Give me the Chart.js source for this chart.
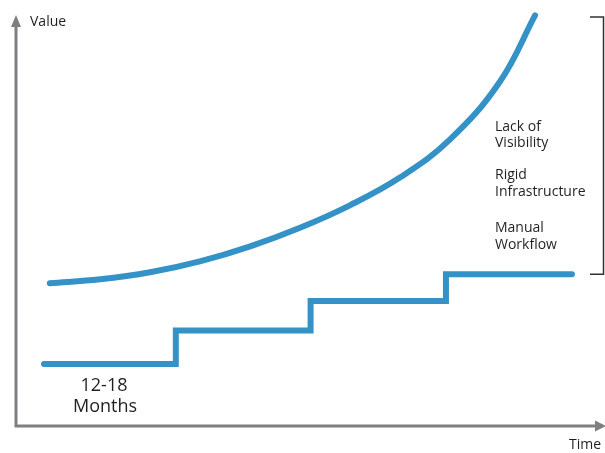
<!DOCTYPE html>
<html>
<head>
<meta charset="utf-8">
<script src="https://cdn.jsdelivr.net/npm/chart.js@4"></script>
<style>
  html, body { margin: 0; padding: 0; background: #fff; }
  #wrap { width: 605px; height: 453px; }
</style>
</head>
<body>
<div id="wrap"><canvas id="chart"></canvas></div>
<script>
// cost curve (rising exponentially)
const curveX = [5.6, 14.2, 22.7, 31.2, 39.8, 48.3, 56.8, 65.4, 73.9, 82.4, 88.4];
const curveY = [34.9, 35.85, 37.55, 40.2, 43.85, 48.35, 53.8, 60.6, 69.8, 83.8, 99.9];

// stepped line
const stepX = [4.6, 27.1, 50.1, 73.2, 94.7];
const stepY = [15.3, 23.4, 30.6, 37.1, 37.1];

const sideLabels = [['Lack of', 'Visibility'], ['Rigid', 'Infrastructure'], ['Manual', 'Workflow']];
const stepLabel = ['12-18', 'Months'];
const xAxisTitle = 'Time';
const yAxisTitle = 'Value';

const BLUE = '#3592c6';
const GREY = '#7d7f82';
const TEXT = '#231f20';
const FONT = '"Open Sans", sans-serif';

const toPoints = (xs, ys) => xs.map((x, i) => ({ x: x, y: ys[i] }));

// axes with arrows, bracket and the text notes
const decor = {
    id: 'decor',
    afterDatasetsDraw(chart) {
        const c = chart.ctx;
        const xs = chart.scales.x, ys = chart.scales.y;
        const left = xs.getPixelForValue(0) - 1, bottom = ys.getPixelForValue(0) - 1;
        c.save();

        // axes
        c.strokeStyle = GREY;
        c.fillStyle = GREY;
        c.lineWidth = 3;
        c.beginPath();
        c.moveTo(left, 24);
        c.lineTo(left, bottom);
        c.lineTo(598, bottom);
        c.stroke();
        c.beginPath();
        c.moveTo(left, 15);
        c.lineTo(left - 5, 27);
        c.lineTo(left + 5, 27);
        c.closePath();
        c.fill();
        c.beginPath();
        c.moveTo(606, bottom);
        c.lineTo(595, bottom - 5.5);
        c.lineTo(595, bottom + 5.5);
        c.closePath();
        c.fill();

        // bracket
        const bx = 603.5;
        const bTop = ys.getPixelForValue(99.5), bBot = ys.getPixelForValue(37.1);
        c.strokeStyle = '#333';
        c.lineWidth = 1.5;
        c.beginPath();
        c.moveTo(590, bTop);
        c.lineTo(bx, bTop);
        c.lineTo(bx, bBot);
        c.lineTo(590, bBot);
        c.stroke();

        // text
        c.fillStyle = TEXT;
        c.textBaseline = 'middle';
        c.font = '14px ' + FONT;
        c.textAlign = 'left';
        c.fillText(yAxisTitle, 30, 22);
        c.fillText(xAxisTitle, 569, 445);

        const rows = [127, 143, 175, 192, 228, 245];
        sideLabels.flat().forEach((t, i) => c.fillText(t, 495, rows[i]));

        c.font = '18px ' + FONT;
        c.textAlign = 'center';
        c.fillText(stepLabel[0], 104, 386);
        c.fillText(stepLabel[1], 105, 407);
        c.restore();
    }
};

new Chart(document.getElementById('chart'), {
    type: 'line',
    data: {
        datasets: [
            {
                data: toPoints(curveX, curveY),
                borderColor: BLUE,
                borderWidth: 6,
                borderCapStyle: 'round',
                tension: 0.4,
                pointRadius: 0,
                clip: false
            },
            {
                data: toPoints(stepX, stepY),
                borderColor: BLUE,
                borderWidth: 6,
                borderCapStyle: 'round',
                borderJoinStyle: 'miter',
                stepped: 'before',
                pointRadius: 0,
                clip: false
            }
        ]
    },
    options: {
        responsive: true,
        maintainAspectRatio: false,
        animation: false,
        layout: { padding: { left: 17, right: 2, top: 15, bottom: 26 } },
        plugins: { legend: { display: false }, tooltip: { enabled: false } },
        scales: {
            x: { type: 'linear', min: 0, max: 100, display: false },
            y: { min: 0, max: 100, display: false }
        }
    },
    plugins: [decor]
});
</script>
</body>
</html>
